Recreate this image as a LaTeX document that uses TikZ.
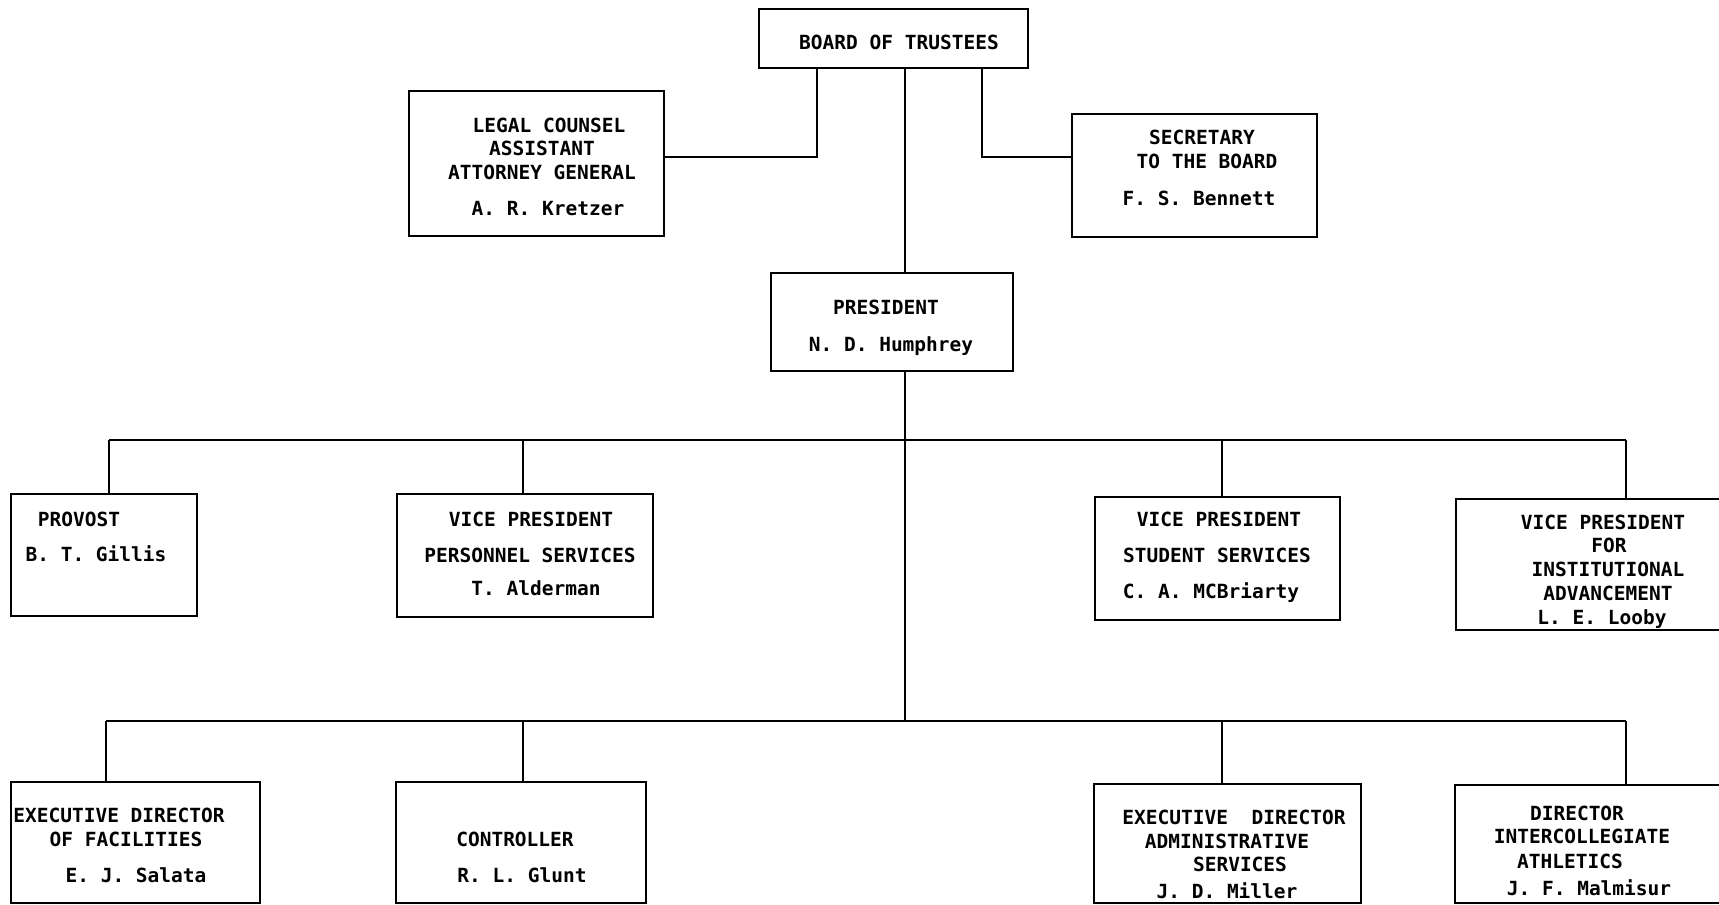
\documentclass[tikz,border=0pt]{standalone}
\usepackage{fontspec}
\setmonofont{DejaVu Sans Mono}
\begin{document}
\begin{tikzpicture}[x=1pt,y=-1pt,
  box/.style={draw,line width=1.8pt,rectangle,anchor=north west,inner sep=0pt,outer sep=0pt},
  txt/.style={anchor=base,inner sep=0pt,font=\ttfamily\bfseries\fontsize{19.5}{23}\selectfont},
  conn/.style={line width=1.6pt}]
\useasboundingbox[fill=white] (0,0) rectangle (1719,905);
% boxes
\node[box,minimum width=269pt,minimum height=59pt] (board) at (759,9) {};
\node[box,minimum width=255pt,minimum height=145pt] (legal) at (409,91) {};
\node[box,minimum width=245pt,minimum height=123pt] (sec) at (1072,114) {};
\node[box,minimum width=242pt,minimum height=98pt] (pres) at (771,273) {};
\node[box,minimum width=186pt,minimum height=122pt] (prov) at (11,494) {};
\node[box,minimum width=256pt,minimum height=123pt] (vpp) at (397,494) {};
\node[box,minimum width=245pt,minimum height=123pt] (vps) at (1095,497) {};
\node[box,minimum width=275pt,minimum height=131pt] (vpi) at (1456,499) {};
\node[box,minimum width=249pt,minimum height=121pt] (efac) at (11,782) {};
\node[box,minimum width=250pt,minimum height=121pt] (ctrl) at (396,782) {};
\node[box,minimum width=267pt,minimum height=119pt] (eadm) at (1094,784) {};
\node[box,minimum width=276pt,minimum height=118pt] (dir) at (1455,785) {};
% texts
\node[txt] (t1) at (899,49) {BOARD OF TRUSTEES};
\node[txt] (t2) at (549,132) {LEGAL COUNSEL};
\node[txt] (t3) at (542,155) {ASSISTANT};
\node[txt] (t4) at (542,179) {ATTORNEY GENERAL};
\node[txt] (t5) at (548,215) {A. R. Kretzer};
\node[txt] (t6) at (1202,144) {SECRETARY};
\node[txt] (t7) at (1207,168) {TO THE BOARD};
\node[txt] (t8) at (1199,205) {F. S. Bennett};
\node[txt] (t9) at (886,314) {PRESIDENT};
\node[txt] (t10) at (891,351) {N. D. Humphrey};
\node[txt] (t11) at (79,526) {PROVOST};
\node[txt] (t12) at (96,561) {B. T. Gillis};
\node[txt] (t13) at (531,526) {VICE PRESIDENT};
\node[txt] (t14) at (530,562) {PERSONNEL SERVICES};
\node[txt] (t15) at (536,595) {T. Alderman};
\node[txt] (t16) at (1219,526) {VICE PRESIDENT};
\node[txt] (t17) at (1217,562) {STUDENT SERVICES};
\node[txt] (t18) at (1211,598) {C. A. MCBriarty};
\node[txt] (t19) at (1603,529) {VICE PRESIDENT};
\node[txt] (t20) at (1609,552) {FOR};
\node[txt] (t21) at (1608,576) {INSTITUTIONAL};
\node[txt] (t22) at (1608,600) {ADVANCEMENT};
\node[txt] (t23) at (1602,624) {L. E. Looby};
\node[txt] (t24) at (119,822) {EXECUTIVE DIRECTOR};
\node[txt] (t25) at (126,846) {OF FACILITIES};
\node[txt] (t26) at (136,882) {E. J. Salata};
\node[txt] (t27) at (515,846) {CONTROLLER};
\node[txt] (t28) at (522,882) {R. L. Glunt};
\node[txt] (t29) at (1234,824) {EXECUTIVE\ \ DIRECTOR};
\node[txt] (t30) at (1227,848) {ADMINISTRATIVE};
\node[txt] (t31) at (1240,871) {SERVICES};
\node[txt] (t32) at (1227,898) {J. D. Miller};
\node[txt] (t33) at (1577,820) {DIRECTOR};
\node[txt] (t34) at (1582,843) {INTERCOLLEGIATE};
\node[txt] (t35) at (1570,868) {ATHLETICS};
\node[txt] (t36) at (1589,895) {J. F. Malmisur};
% connector coordinates
\coordinate (cl) at (817,157);
\coordinate (cr) at (982,157);
\coordinate (cc) at (905,0);
\coordinate (b1a) at (109,440);
\coordinate (b1b) at (523,440);
\coordinate (b1c) at (1222,440);
\coordinate (b1d) at (1626,440);
\coordinate (b2a) at (106,721);
\coordinate (b2b) at (523,721);
\coordinate (b2c) at (1222,721);
\coordinate (b2d) at (1626,721);
% connectors
\draw[conn] (board.south -| cl) |- (legal.east |- cl);
\draw[conn] (board.south -| cr) |- (sec.west |- cr);
\draw[conn] (board.south -| cc) -- (pres.north -| cc);
\draw[conn] (pres.south -| cc) -- (b2a -| cc);
\draw[conn] (b1a) -- (b1d);
\draw[conn] (b1a) -- (prov.north -| b1a);
\draw[conn] (b1b) -- (vpp.north -| b1b);
\draw[conn] (b1c) -- (vps.north -| b1c);
\draw[conn] (b1d) -- (vpi.north -| b1d);
\draw[conn] (b2a) -- (b2d);
\draw[conn] (b2a) -- (efac.north -| b2a);
\draw[conn] (b2b) -- (ctrl.north -| b2b);
\draw[conn] (b2c) -- (eadm.north -| b2c);
\draw[conn] (b2d) -- (dir.north -| b2d);
\end{tikzpicture}
\end{document}
